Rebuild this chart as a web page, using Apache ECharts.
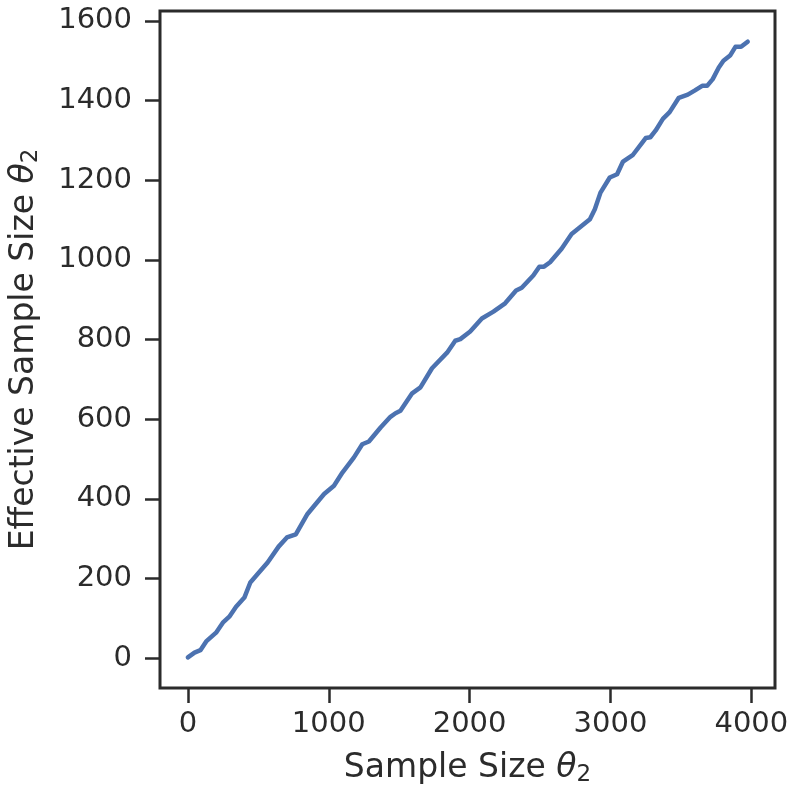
<!DOCTYPE html>
<html>
<head>
<meta charset="utf-8">
<title>Effective Sample Size</title>
<script src="https://cdn.jsdelivr.net/npm/echarts@6/dist/echarts.min.js"></script>
<style>
    html, body { margin: 0; padding: 0; background: #fff; }
    #ess { width: 800px; height: 800px; }
</style>
</head>
<body>
<div id="ess"></div>
<script>
// sample size (x) and effective sample size (y)
var sampleSize = [0, 47, 89, 130, 200, 248, 294, 342, 401, 443, 495, 566, 644, 703, 766,
    849, 896, 967, 1037, 1097, 1179, 1238, 1285, 1368, 1438, 1474, 1509, 1592, 1651, 1733,
    1840, 1898, 1934, 2004, 2087, 2169, 2252, 2330, 2370, 2452, 2495, 2528, 2571, 2653, 2724,
    2854, 2889, 2929, 2995, 3047, 3089, 3160, 3250, 3283, 3321, 3372, 3420, 3485, 3549, 3597,
    3651, 3686, 3726, 3769, 3802, 3849, 3887, 3927, 3974];
var effSize = [2, 14, 20, 42, 64, 89, 104, 129, 152, 190, 211, 240, 280, 303, 311,
    362, 382, 412, 433, 466, 504, 537, 544, 579, 606, 615, 621, 665, 680, 728,
    767, 797, 801, 820, 853, 870, 891, 923, 930, 961, 983, 983, 994, 1028, 1065,
    1102, 1127, 1169, 1207, 1215, 1247, 1264, 1306, 1308, 1325, 1354, 1371, 1407, 1415, 1425,
    1437, 1437, 1454, 1483, 1500, 1513, 1535, 1535, 1548];

// tick labels
var xTicks = [0, 1000, 2000, 3000, 4000];
var yTicks = [0, 200, 400, 600, 800, 1000, 1200, 1400, 1600];

var ink = '#2b2b2b';
var font = 'DejaVu Sans';

function axisName(text) {
    return '{a|' + text + ' }{i|θ}{s|2}';
}

// plain numbers, no thousands separator
function plain(v) {
    return String(v);
}

var nameRich = {
    a: { fontFamily: font, fontSize: 33, color: ink, lineHeight: 38 },
    i: { fontFamily: font, fontSize: 33, color: ink, fontStyle: 'italic', lineHeight: 38 },
    s: { fontFamily: font, fontSize: 23, color: ink, lineHeight: 22, padding: [16, 0, 0, 0], verticalAlign: 'bottom' }
};

var myChart = echarts.init(document.getElementById('ess'));

var points = [];
for (var i = 0; i < sampleSize.length; i++) {
    points.push([sampleSize[i], effSize[i]]);
}

var option = {
    animation: false,
    grid: {
        left: 160,
        right: 25,
        top: 11,
        bottom: 112,
        outerBoundsMode: 'none',
        show: true,
        borderColor: ink,
        borderWidth: 3,
        backgroundColor: '#fff'
    },
    xAxis: {
        type: 'value',
        min: -198,
        max: 4168,
        splitLine: { show: false },
        axisLine: { show: false, onZero: false },
        axisTick: {
            customValues: xTicks,
            length: 15,
            lineStyle: { color: ink, width: 2.5 }
        },
        axisLabel: {
            customValues: xTicks,
            formatter: plain,
            margin: 22,
            fontFamily: font,
            fontSize: 29,
            color: ink
        },
        name: axisName('Sample Size'),
        nameLocation: 'middle',
        nameGap: 61,
        nameTextStyle: { rich: nameRich }
    },
    yAxis: {
        type: 'value',
        min: -75,
        max: 1625,
        splitLine: { show: false },
        axisLine: { show: false, onZero: false },
        axisTick: {
            customValues: yTicks,
            length: 15,
            lineStyle: { color: ink, width: 2.5 }
        },
        axisLabel: {
            customValues: yTicks,
            formatter: plain,
            margin: 28,
            fontFamily: font,
            fontSize: 29,
            color: ink
        },
        name: axisName('Effective Sample Size'),
        nameLocation: 'middle',
        nameGap: 117,
        nameTextStyle: { rich: nameRich }
    },
    series: [
        {
            type: 'line',
            data: points,
            symbol: 'none',
            smooth: false,
            lineStyle: { color: '#4c72b0', width: 4.5, cap: 'round', join: 'round' }
        }
    ]
};

myChart.setOption(option);
</script>
</body>
</html>
